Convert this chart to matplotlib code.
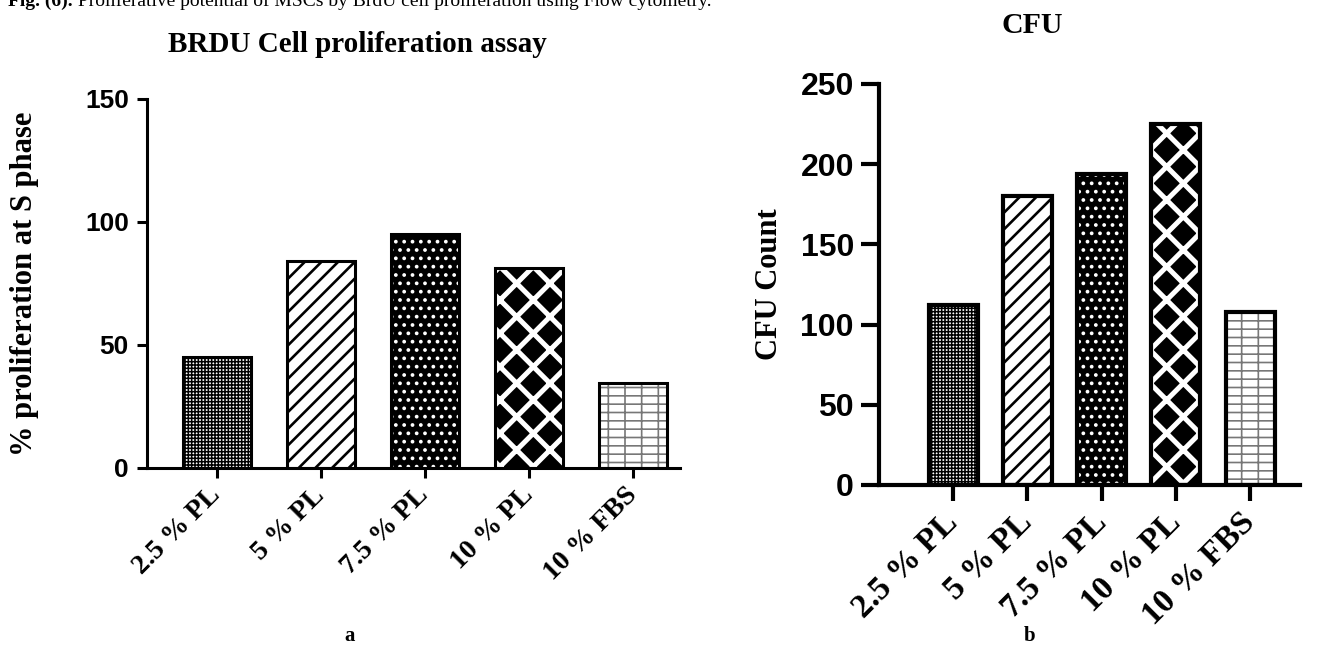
import matplotlib
matplotlib.use('Agg')
import matplotlib.pyplot as plt

# data
groups = ['2.5 % PL', '5 % PL', '7.5 % PL', '10 % PL', '10 % FBS']
brdu_values = [45.2, 84.3, 95.1, 81.2, 34.4]
cfu_values = [112.2, 180.2, 193.9, 224.9, 108.0]
brdu_yticks = [0, 50, 100, 150]
cfu_yticks = [0, 50, 100, 150, 200, 250]

SERIF = 'Liberation Serif'
SANS = 'Liberation Sans'

# fill style of each group: face colour, hatch colour, hatch, hatch line width
styles = [
    ('white', 'black', '+++++', 1.1),
    ('white', 'black', '//', 1.9),
    ('black', 'white', '..', 1.5),
    ('black', 'white', 'x', 3.6),
    ('white', '#777777', '--|', 1.2),
]


def draw_panel(ax, values, width, edge_lw):
    for i, v in enumerate(values):
        face, hcolor, hatch, hlw = styles[i]
        with plt.rc_context({'hatch.linewidth': hlw}):
            bars = ax.bar(i, v, width, color=face, edgecolor=hcolor, hatch=hatch, linewidth=0)
        for p in bars:
            if hasattr(p, 'set_hatch_linewidth'):
                p.set_hatch_linewidth(hlw)
        # black outline on top
        ax.bar(i, v, width, facecolor='none', edgecolor='black', linewidth=edge_lw)


fig = plt.figure(figsize=(13.31, 6.49), dpi=100)

# ---- a: BRDU ----
ax1 = fig.add_axes([0.1104, 0.2789, 0.4005, 0.5686])
draw_panel(ax1, brdu_values, 0.65, 2.2)
ax1.set_xlim(-0.67, 4.45)
ax1.set_ylim(0, 150)
ax1.set_yticks(brdu_yticks)
ax1.set_xticks(range(len(groups)))
ax1.set_xticklabels(groups, rotation=45, ha='right', va='center', rotation_mode='anchor',
                    fontfamily=SERIF, fontweight='bold', fontsize=20)
for lab in ax1.get_yticklabels():
    lab.set_fontfamily(SANS)
    lab.set_fontweight('bold')
ax1.tick_params(axis='y', length=7, width=2.2, labelsize=19, pad=6)
ax1.tick_params(axis='x', length=7, width=2.2, pad=10)
for s in ['top', 'right']:
    ax1.spines[s].set_visible(False)
for s in ['left', 'bottom']:
    ax1.spines[s].set_linewidth(2.2)
ax1.set_ylabel('% proliferation at S phase', fontfamily=SERIF, fontweight='bold',
               fontsize=22, va='center')
ax1.yaxis.set_label_coords(-0.229, 0.5)

# ---- b: CFU ----
ax2 = fig.add_axes([0.6604, 0.2527, 0.3163, 0.6179])
draw_panel(ax2, cfu_values, 0.66, 3.0)
ax2.set_xlim(-1.0, 4.67)
ax2.set_ylim(0, 250)
ax2.set_yticks(cfu_yticks)
ax2.set_xticks(range(len(groups)))
ax2.set_xticklabels(groups, rotation=45, ha='right', va='center', rotation_mode='anchor',
                    fontfamily=SERIF, fontweight='bold', fontsize=24)
for lab in ax2.get_yticklabels():
    lab.set_fontfamily(SANS)
    lab.set_fontweight('bold')
ax2.tick_params(axis='y', length=13, width=3, labelsize=23, pad=5)
ax2.tick_params(axis='x', length=11.5, width=3, pad=12)
for s in ['top', 'right']:
    ax2.spines[s].set_visible(False)
for s in ['left', 'bottom']:
    ax2.spines[s].set_linewidth(3)
ax2.set_ylabel('CFU Count', fontfamily=SERIF, fontweight='bold', fontsize=22, va='center')
ax2.yaxis.set_label_coords(-0.259, 0.5)

# titles and captions
fig.text(357 / 1331, 1 - 52 / 649, 'BRDU Cell proliferation assay', ha='center', va='baseline',
         fontfamily=SERIF, fontweight='bold', fontsize=21)
fig.text(1032 / 1331, 1 - 33 / 649, 'CFU', ha='center', va='baseline',
         fontfamily=SERIF, fontweight='bold', fontsize=21.5)
fig.text(350 / 1331, 1 - 636 / 649, 'a', ha='center', va='center',
         fontfamily=SERIF, fontweight='bold', fontsize=15)
fig.text(1030 / 1331, 1 - 636 / 649, 'b', ha='center', va='center',
         fontfamily=SERIF, fontweight='bold', fontsize=15)

# figure caption, cut off at the top edge
cap = fig.text(8 / 1331, 1 - 6 / 649, 'Fig. (6).', ha='left', va='baseline',
               fontfamily=SERIF, fontweight='bold', fontsize=14)
ax1.annotate(' Proliferative potential of MSCs by BrdU cell proliferation using Flow cytometry.',
             xy=(1, 0), xycoords=cap, va='bottom', ha='left', annotation_clip=False,
             fontfamily=SERIF, fontsize=14)

fig.savefig('out.png', dpi=100)
